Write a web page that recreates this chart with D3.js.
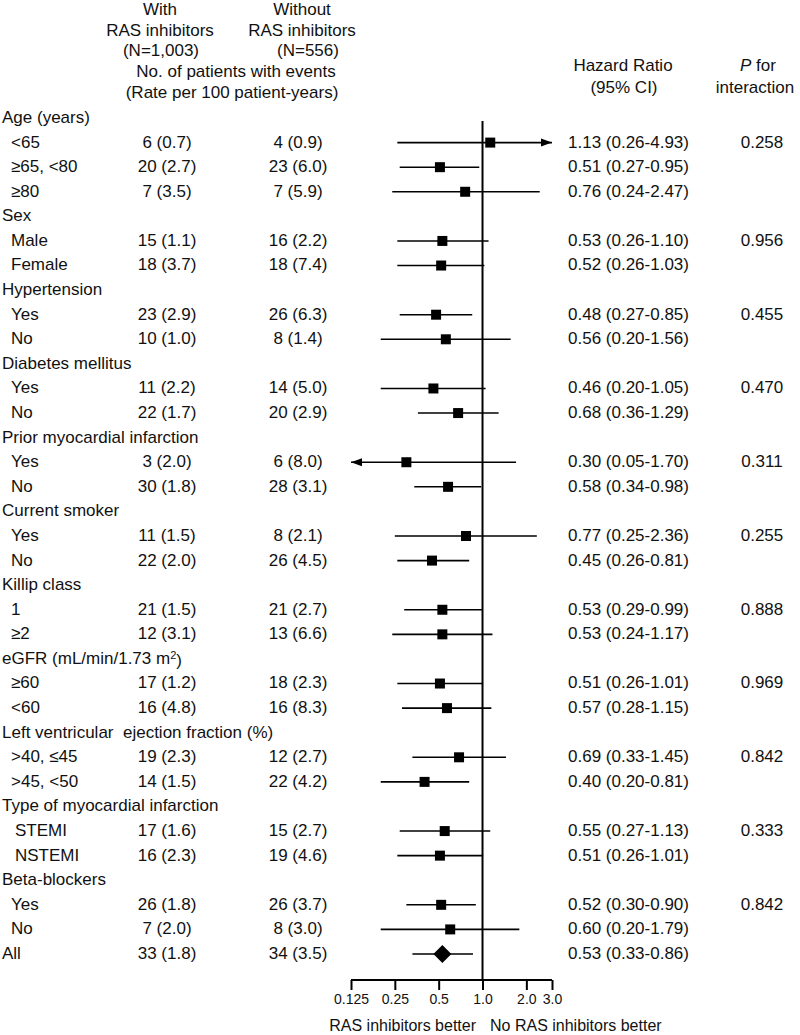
<!DOCTYPE html>
<html>
<head>
<meta charset="utf-8">
<script src="https://cdn.jsdelivr.net/npm/d3@7"></script>
<style>
  body { margin: 0; background: #fff; }
  svg text { font-family: "Liberation Sans", Arial, sans-serif; fill: #111; }
</style>
</head>
<body>
<svg id="forest" width="800" height="1035"></svg>
<script>
// row labels, top to bottom
var rowLabels = ['Age (years)', '<65', '\u226565, <80', '\u226580',
  'Sex', 'Male', 'Female',
  'Hypertension', 'Yes', 'No',
  'Diabetes mellitus', 'Yes', 'No',
  'Prior myocardial infarction', 'Yes', 'No',
  'Current smoker', 'Yes', 'No',
  'Killip class', '1', '\u22652',
  'eGFR (mL/min/1.73 m', '\u226560', '<60',
  'Left ventricular  ejection fraction (%)', '>40, \u226445', '>45, <50',
  'Type of myocardial infarction', 'STEMI', 'NSTEMI',
  'Beta-blockers', 'Yes', 'No',
  'All'];
var rowKind = ['group','sub','sub','sub', 'group','sub','sub', 'group','sub','sub',
  'group','sub','sub', 'group','sub','sub', 'group','sub','sub', 'group','sub','sub',
  'group','sub','sub', 'group','sub','sub', 'group','sub','sub', 'group','sub','sub', 'all'];

var withRAS = [null,'6 (0.7)','20 (2.7)','7 (3.5)', null,'15 (1.1)','18 (3.7)',
  null,'23 (2.9)','10 (1.0)', null,'11 (2.2)','22 (1.7)', null,'3 (2.0)','30 (1.8)',
  null,'11 (1.5)','22 (2.0)', null,'21 (1.5)','12 (3.1)', null,'17 (1.2)','16 (4.8)',
  null,'19 (2.3)','14 (1.5)', null,'17 (1.6)','16 (2.3)', null,'26 (1.8)','7 (2.0)', '33 (1.8)'];
var withoutRAS = [null,'4 (0.9)','23 (6.0)','7 (5.9)', null,'16 (2.2)','18 (7.4)',
  null,'26 (6.3)','8 (1.4)', null,'14 (5.0)','20 (2.9)', null,'6 (8.0)','28 (3.1)',
  null,'8 (2.1)','26 (4.5)', null,'21 (2.7)','13 (6.6)', null,'18 (2.3)','16 (8.3)',
  null,'12 (2.7)','22 (4.2)', null,'15 (2.7)','19 (4.6)', null,'26 (3.7)','8 (3.0)', '34 (3.5)'];

var hr = [null,1.13,0.51,0.76, null,0.53,0.52, null,0.48,0.56, null,0.46,0.68,
  null,0.30,0.58, null,0.77,0.45, null,0.53,0.53, null,0.51,0.57,
  null,0.69,0.40, null,0.55,0.51, null,0.52,0.60, 0.53];
var lo = [null,0.26,0.27,0.24, null,0.26,0.26, null,0.27,0.20, null,0.20,0.36,
  null,0.05,0.34, null,0.25,0.26, null,0.29,0.24, null,0.26,0.28,
  null,0.33,0.20, null,0.27,0.26, null,0.30,0.20, 0.33];
var hi = [null,4.93,0.95,2.47, null,1.10,1.03, null,0.85,1.56, null,1.05,1.29,
  null,1.70,0.98, null,2.36,0.81, null,0.99,1.17, null,1.01,1.15,
  null,1.45,0.81, null,1.13,1.01, null,0.90,1.79, 0.86];
var pInteraction = [null,'0.258',null,null, null,'0.956',null, null,'0.455',null,
  null,'0.470',null, null,'0.311',null, null,'0.255',null, null,'0.888',null,
  null,'0.969',null, null,'0.842',null, null,'0.333',null, null,'0.842',null, null];

var tickValues = [0.125, 0.25, 0.5, 1.0, 2.0, 3.0];
var tickLabels = ['0.125', '0.25', '0.5', '1.0', '2.0', '3.0'];

var svg = d3.select('#forest');
var FS = 17;

var x = d3.scaleLog().base(2).domain([0.125, 3]).range([351, 552]);
var y = d3.scalePoint().domain(d3.range(rowLabels.length)).range([117, 953]);
var xMin = x.domain()[0], xMax = x.domain()[1];

// column headers
var headers = [
  {t: 'With', x: 160, y: 9}, {t: 'RAS inhibitors', x: 160, y: 30}, {t: '(N=1,003)', x: 161, y: 50},
  {t: 'Without', x: 302, y: 9}, {t: 'RAS inhibitors', x: 302, y: 30}, {t: '(N=556)', x: 308, y: 50},
  {t: 'No. of patients with events', x: 236, y: 71},
  {t: '(Rate per 100 patient-years)', x: 232, y: 92},
  {t: 'Hazard Ratio', x: 623, y: 65}, {t: '(95% CI)', x: 624, y: 87},
  {t: 'interaction', x: 755, y: 87}
];
svg.selectAll('text.hdr')
  .data(headers)
  .enter()
  .append('text')
  .attr('class', 'hdr')
  .attr('x', function(d){ return d.x; })
  .attr('y', function(d){ return d.y; })
  .attr('dy', '0.35em')
  .attr('text-anchor', 'middle')
  .style('font-size', FS + 'px')
  .text(function(d){ return d.t; });

var pFor = svg.append('text')
  .attr('x', 758).attr('y', 65).attr('dy', '0.35em')
  .attr('text-anchor', 'middle')
  .style('font-size', FS + 'px');
pFor.append('tspan').style('font-style', 'italic').text('P');
pFor.append('tspan').text(' for');

var rows = d3.range(rowLabels.length);

// left labels
var lbl = svg.selectAll('text.lbl')
  .data(rows)
  .enter()
  .append('text')
  .attr('class', 'lbl')
  .attr('x', function(i){
    if (rowKind[i] === 'sub') { return rowLabels[i].indexOf('STEMI') >= 0 ? 15 : 11; }
    return 2;
  })
  .attr('y', function(i){ return y(i); })
  .attr('dy', '0.35em')
  .style('font-size', FS + 'px')
  .style('white-space', 'pre')
  .text(function(i){ return rowLabels[i]; });

// superscript for m2 in the eGFR label
lbl.filter(function(i){ return rowLabels[i].indexOf('eGFR') === 0; })
  .each(function(){
    var t = d3.select(this);
    t.append('tspan').attr('dy', '-0.4em').style('font-size', '11px').text('2');
    t.append('tspan').attr('dy', '0.4em').text(')');
  });

// event counts
svg.selectAll('text.c1')
  .data(rows.filter(function(i){ return withRAS[i] !== null; }))
  .enter()
  .append('text')
  .attr('x', 167)
  .attr('y', function(i){ return y(i); })
  .attr('dy', '0.35em')
  .attr('text-anchor', 'middle')
  .style('font-size', FS + 'px')
  .text(function(i){ return withRAS[i]; });

svg.selectAll('text.c2')
  .data(rows.filter(function(i){ return withoutRAS[i] !== null; }))
  .enter()
  .append('text')
  .attr('x', 298)
  .attr('y', function(i){ return y(i); })
  .attr('dy', '0.35em')
  .attr('text-anchor', 'middle')
  .style('font-size', FS + 'px')
  .text(function(i){ return withoutRAS[i]; });

// HR text and P
var hrRows = rows.filter(function(i){ return hr[i] !== null; });
svg.selectAll('text.hr')
  .data(hrRows)
  .enter()
  .append('text')
  .attr('x', 568)
  .attr('y', function(i){ return y(i); })
  .attr('dy', '0.35em')
  .style('font-size', FS + 'px')
  .text(function(i){ return hr[i].toFixed(2) + ' (' + lo[i].toFixed(2) + '-' + hi[i].toFixed(2) + ')'; });

svg.selectAll('text.p')
  .data(rows.filter(function(i){ return pInteraction[i] !== null; }))
  .enter()
  .append('text')
  .attr('x', 762)
  .attr('y', function(i){ return y(i); })
  .attr('dy', '0.35em')
  .attr('text-anchor', 'middle')
  .style('font-size', FS + 'px')
  .text(function(i){ return pInteraction[i]; });

// reference line at HR = 1
var axisY = 980;
svg.append('line')
  .attr('x1', x(1)).attr('x2', x(1))
  .attr('y1', 121).attr('y2', axisY)
  .attr('stroke', '#000')
  .attr('stroke-width', 2);

// CI lines
svg.selectAll('line.ci')
  .data(hrRows)
  .enter()
  .append('line')
  .attr('class', 'ci')
  .attr('x1', function(i){ return x(Math.max(lo[i], xMin)); })
  .attr('x2', function(i){ return x(Math.min(hi[i], xMax)); })
  .attr('y1', function(i){ return y(i) + 1; })
  .attr('y2', function(i){ return y(i) + 1; })
  .attr('stroke', '#000')
  .attr('stroke-width', 1.6);

// arrowheads for clipped intervals
var arrowRows = hrRows.filter(function(i){ return lo[i] < xMin || hi[i] > xMax; });
svg.selectAll('path.arrow')
  .data(arrowRows)
  .enter()
  .append('path')
  .attr('d', function(i){
    var yy = y(i) + 1;
    if (hi[i] > xMax) {
      var tip = x(xMax);
      return 'M' + tip + ',' + yy + 'L' + (tip - 11) + ',' + (yy - 4) + 'L' + (tip - 11) + ',' + (yy + 4) + 'Z';
    }
    var tipL = x(xMin);
    return 'M' + tipL + ',' + yy + 'L' + (tipL + 11) + ',' + (yy - 4) + 'L' + (tipL + 11) + ',' + (yy + 4) + 'Z';
  })
  .attr('fill', '#000');

// squares
svg.selectAll('path.pt')
  .data(hrRows.filter(function(i){ return rowKind[i] !== 'all'; }))
  .enter()
  .append('path')
  .attr('d', d3.symbol(d3.symbolSquare, 100))
  .attr('transform', function(i){ return 'translate(' + x(hr[i]) + ',' + (y(i) + 1) + ')'; })
  .attr('fill', '#000');

// diamond for overall
svg.selectAll('path.dia')
  .data(hrRows.filter(function(i){ return rowKind[i] === 'all'; }))
  .enter()
  .append('path')
  .attr('d', function(i){
    var cx = x(hr[i]), cy = y(i) + 1;
    return 'M' + (cx - 9) + ',' + cy + 'L' + cx + ',' + (cy - 9) + 'L' + (cx + 9) + ',' + cy + 'L' + cx + ',' + (cy + 9) + 'Z';
  })
  .attr('fill', '#000');

// x axis
var xAxis = d3.axisBottom(x)
  .tickValues(tickValues)
  .tickFormat(function(d, k){ return tickLabels[k]; })
  .tickSize(10)
  .tickSizeOuter(0);
var gx = svg.append('g')
  .attr('transform', 'translate(0,' + axisY + ')')
  .call(xAxis);
gx.select('.domain').attr('stroke', '#000').attr('stroke-width', 2)
  .attr('d', 'M' + x(xMin) + ',0H' + x(xMax));
gx.selectAll('.tick line').attr('stroke', '#000').attr('stroke-width', 2);
gx.selectAll('.tick text')
  .attr('y', 14)
  .style('font-size', '14px')
  .style('font-family', '"Liberation Sans", Arial, sans-serif')
  .attr('fill', '#111');

svg.append('text')
  .attr('x', 476).attr('y', 1025).attr('dy', '0.35em')
  .attr('text-anchor', 'end')
  .style('font-size', '16px')
  .text('RAS inhibitors better');
svg.append('text')
  .attr('x', 490).attr('y', 1025).attr('dy', '0.35em')
  .style('font-size', '16px')
  .text('No RAS inhibitors better');
</script>
</body>
</html>
